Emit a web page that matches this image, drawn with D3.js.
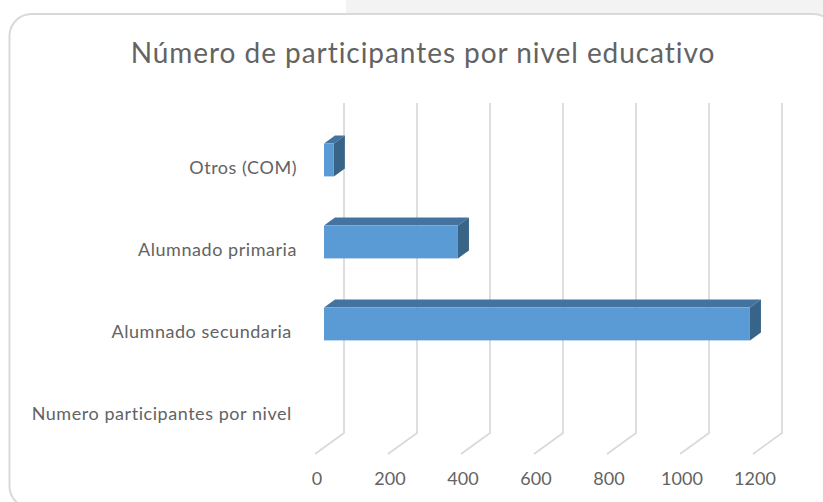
<!DOCTYPE html>
<html><head><meta charset="utf-8">
<script src="https://cdnjs.cloudflare.com/ajax/libs/d3/7.8.5/d3.min.js"></script>
<style>html,body{margin:0;padding:0;background:#fff;overflow:hidden}svg{display:block}text{font-family:Lato,"Open Sans",sans-serif;fill:#636363;white-space:pre}</style>
</head><body><div id="chart"></div>
<script>
const chartTitle = "Número de participantes por nivel educativo";
const categories = ["Otros (COM)", "Alumnado primaria", "Alumnado secundaria ", "Numero participantes por nivel "];
const participants = [27, 367, 1167, null];
const xTicks = [0, 200, 400, 600, 800, 1000, 1200];

const W = 823, H = 502;
const svg = d3.select("#chart").append("svg").attr("width", W).attr("height", H);
// page background behind the card
svg.append("rect").attr("x", 346).attr("y", 0).attr("width", W - 346).attr("height", 14).attr("fill", "#f3f3f3");
svg.append("rect").attr("x", 9.5).attr("y", 14).attr("width", 826).attr("height", 494).attr("rx", 22)
  .attr("fill", "#fff").attr("stroke", "#d9d9d9").attr("stroke-width", 2);

svg.append("text").attr("x", 423).attr("y", 63).attr("text-anchor", "middle")
  .attr("font-size", 28).attr("letter-spacing", 0.95).text(chartTitle);

const x = d3.scaleLinear().domain([0, 1200]).range([344, 782]);
const y = d3.scaleBand().domain(categories).range([119, 447]).paddingInner(0.6).paddingOuter(0.3);
const floorTop = 433, floorBottom = 454, wallTop = 103, floorDx = 29;
const frontDx = 20, depthX = 11, depthY = 8;

const grid = svg.append("g").attr("fill", "none").attr("stroke", "#d9d9d9").attr("stroke-width", 1.7);
grid.selectAll("path").data(xTicks).join("path")
  .attr("d", d => `M${x(d)},${wallTop}V${floorTop}L${x(d) - floorDx},${floorBottom}`);

const bars = svg.append("g").selectAll("g").data(categories.map((c, i) => ({c, v: participants[i]})).filter(d => d.v != null)).join("g");
const x0 = d => x(0) - frontDx, x1 = d => x(d.v) - frontDx;
bars.append("path").attr("fill", "#44739f").attr("d", d =>
  `M${x0(d)},${y(d.c)}l${depthX},${-depthY}H${x1(d) + depthX}l${-depthX},${depthY}Z`);
bars.append("path").attr("fill", "#386488").attr("d", d =>
  `M${x1(d)},${y(d.c)}l${depthX},${-depthY}v${y.bandwidth()}l${-depthX},${depthY}Z`);
bars.append("rect").attr("fill", "#5b9bd5").attr("x", x0).attr("y", d => y(d.c))
  .attr("width", d => x1(d) - x0(d)).attr("height", y.bandwidth());

svg.append("g").selectAll("text").data(categories).join("text")
  .attr("x", 297).attr("y", d => y(d) + y.bandwidth() / 2 + 13.5).attr("text-anchor", "end")
  .attr("font-size", 18).attr("letter-spacing", 0.55).text(d => d);
svg.append("g").selectAll("text").data(xTicks).join("text")
  .attr("x", d => x(d) - 27).attr("y", 485).attr("text-anchor", "middle")
  .attr("font-size", 18).text(d => d);
</script></body></html>
